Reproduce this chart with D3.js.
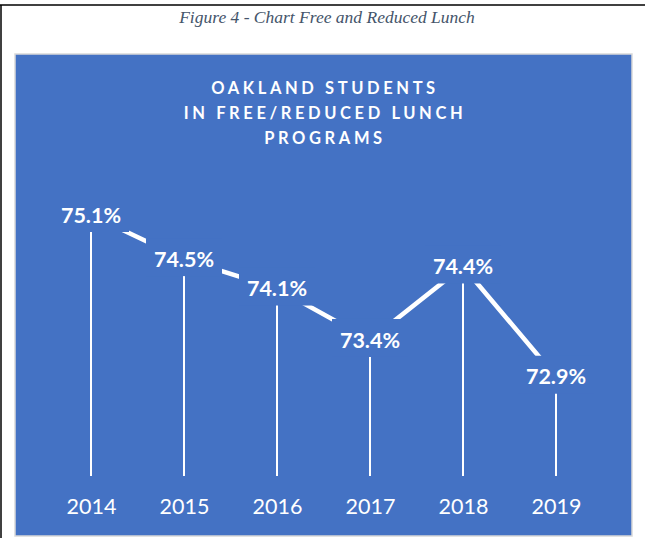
<!DOCTYPE html>
<html>
<head>
<meta charset="utf-8">
<script src="https://cdn.jsdelivr.net/npm/d3@7"></script>
<style>
  body { margin: 0; background: #fff; }
</style>
</head>
<body>
<div id="chart"></div>
<script>
// data
var years = ["2014", "2015", "2016", "2017", "2018", "2019"];
var values = [75.1, 74.5, 74.1, 73.4, 74.4, 72.9];
var titleLines = ["OAKLAND STUDENTS", "IN FREE/REDUCED LUNCH", "PROGRAMS"];
var caption = "Figure 4 - Chart Free and Reduced Lunch";

var width = 645, height = 538;
var blue = "#4472c4";

var svg = d3.select("#chart").append("svg")
    .attr("width", width)
    .attr("height", height);

// page frame lines (top + left)
svg.append("line")
    .attr("x1", 0).attr("x2", width).attr("y1", 5).attr("y2", 5)
    .attr("stroke", "#000").attr("stroke-width", 1.5);
svg.append("line")
    .attr("x1", 1).attr("x2", 1).attr("y1", 5).attr("y2", height)
    .attr("stroke", "#000").attr("stroke-width", 1.5);

// caption
svg.append("text")
    .attr("x", 327).attr("y", 23)
    .attr("text-anchor", "middle")
    .style("font-family", "'Liberation Serif', 'Times New Roman', serif")
    .style("font-style", "italic")
    .style("font-size", "17.5px")
    .attr("fill", "#44546a")
    .text(caption);

// chart panel
svg.append("rect")
    .attr("x", 15).attr("y", 54)
    .attr("width", 617).attr("height", 482)
    .attr("fill", blue)
    .attr("stroke", "#d9d9d9").attr("stroke-width", 1.5);

// title
svg.append("g").selectAll("text")
    .data(titleLines)
    .enter()
    .append("text")
    .attr("x", 325)
    .attr("y", function(d, i) { return 94 + i * 25; })
    .attr("text-anchor", "middle")
    .style("font-family", "Lato, 'Open Sans', sans-serif")
    .style("font-weight", "bold")
    .style("font-size", "16.5px")
    .style("letter-spacing", "3.6px")
    .attr("fill", "#fff")
    .text(function(d) { return d; });

var x = d3.scalePoint()
    .domain(years)
    .range([91, 556]);

var y = d3.scaleLinear()
    .domain([71.55, 75.1])
    .range([476, 215]);

var pts = years.map(function(d, i) { return { year: d, value: values[i] }; });

// drop lines
svg.append("g").selectAll("line")
    .data(pts)
    .enter()
    .append("line")
    .attr("x1", function(d) { return x(d.year); })
    .attr("x2", function(d) { return x(d.year); })
    .attr("y1", function(d) { return y(d.value); })
    .attr("y2", y(71.55))
    .attr("stroke", "#fff")
    .attr("stroke-width", 2);

// the line
var line = d3.line()
    .x(function(d) { return x(d.year); })
    .y(function(d) { return y(d.value); });

svg.append("path")
    .datum(pts)
    .attr("d", line)
    .attr("fill", "none")
    .attr("stroke", "#fff")
    .attr("stroke-width", 4.5);

// label boxes hide the line under the labels
svg.append("g").selectAll("rect")
    .data(pts)
    .enter()
    .append("rect")
    .attr("x", function(d) { return x(d.year) - 38; })
    .attr("y", function(d) { return y(d.value) - 21; })
    .attr("width", 76)
    .attr("height", 38)
    .attr("fill", blue);

svg.append("g").selectAll("text")
    .data(pts)
    .enter()
    .append("text")
    .attr("x", function(d) { return x(d.year); })
    .attr("y", function(d) { return y(d.value); })
    .attr("dy", "0.36em")
    .attr("text-anchor", "middle")
    .style("font-family", "Lato, 'Open Sans', sans-serif")
    .style("font-weight", "bold")
    .style("font-size", "21.5px")
    .attr("fill", "#fff")
    .text(function(d) { return d.value.toFixed(1) + "%"; });

// year labels
var xAxis = svg.append("g")
    .attr("transform", "translate(0," + 506 + ")")
    .call(d3.axisBottom(x).tickSize(0).tickPadding(0));
xAxis.select(".domain").remove();
xAxis.selectAll("text")
    .attr("dy", "0.36em")
    .attr("y", 0)
    .style("font-family", "Lato, 'Open Sans', sans-serif")
    .style("font-size", "21.5px")
    .attr("fill", "#fff");
</script>
</body>
</html>
